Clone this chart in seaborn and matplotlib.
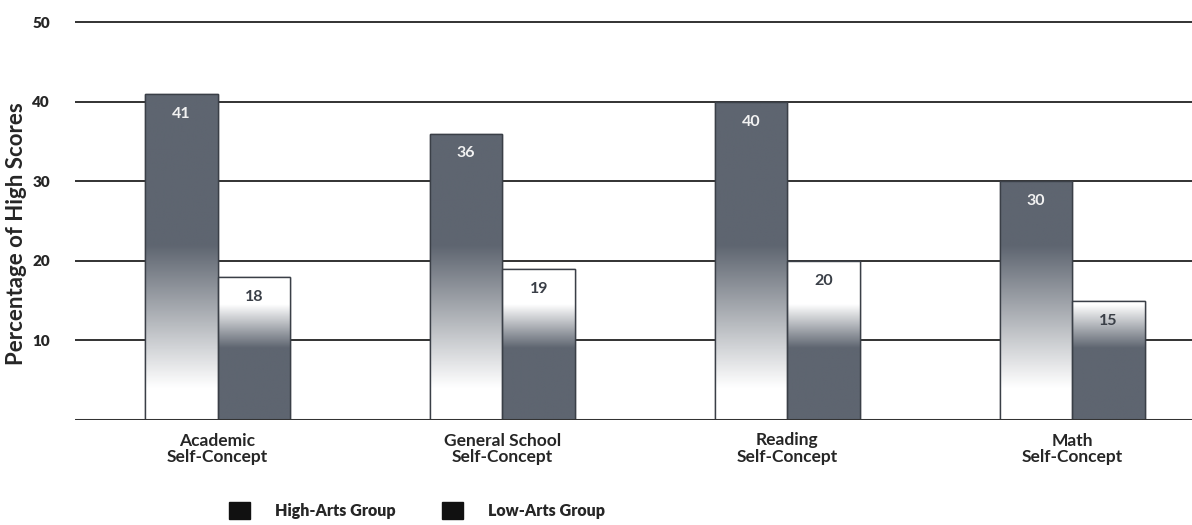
import numpy as np
import pandas as pd
import matplotlib
matplotlib.use("Agg")
import matplotlib.pyplot as plt
from matplotlib.colors import LinearSegmentedColormap
from matplotlib.patches import Patch
import seaborn as sns

categories = ["Academic\nSelf-Concept", "General School\nSelf-Concept",
              "Reading\nSelf-Concept", "Math\nSelf-Concept"]
groups = ["High-Arts Group", "Low-Arts Group"]
high_arts = [41, 36, 40, 30]
low_arts = [18, 19, 20, 15]
yticks = [10, 20, 30, 40, 50]

sns.set_theme(style="white")
plt.rcParams['font.family'] = ['Lato', 'DejaVu Sans']

df = pd.DataFrame({
    "category": categories * 2,
    "group": [groups[0]] * 4 + [groups[1]] * 4,
    "value": high_arts + low_arts,
})

DARK = "#5e6570"
fig = plt.figure(figsize=(11.92, 5.25), dpi=100)
ax = fig.add_axes([0.063, 0.20, 0.937, 0.773])

sns.barplot(data=df, x="category", y="value", hue="group", hue_order=groups,
            order=categories, width=0.51, palette=[DARK, DARK], ax=ax,
            legend=False, zorder=3, edgecolor="#3a3f47", linewidth=1.0)

ax.set_ylim(0, 51)
ax.set_xlim(-0.5, 3.42)
ax.set_yticks(yticks)
ax.set_yticklabels([str(t) for t in yticks], fontsize=11, fontweight="heavy")
ax.tick_params(axis="y", length=0, pad=18)
ax.tick_params(axis="x", length=0, pad=9)
ax.set_xticks(range(len(categories)))
ax.set_xticklabels(categories, fontsize=12.5, fontweight="bold", linespacing=1.05)
ax.set_xlabel("")
ax.set_ylabel("")
fig.text(0.014, 0.555, "Percentage of High Scores", rotation=90, ha="center",
         va="center", fontsize=16, fontweight="bold")
for s in ax.spines.values():
    s.set_visible(False)
for t in yticks:
    ax.axhline(t, color="#222222", lw=1.3, zorder=1)
ax.axhline(0, color="#333333", lw=2.2, zorder=4)

cmap = LinearSegmentedColormap.from_list("g", ["#ffffff", DARK])
ys = np.linspace(0, 51, 400)
high_int = np.clip((ys - 4) / (22 - 4), 0, 1)
low_int = np.clip((14.5 - ys) / (14.5 - 9), 0, 1)

patches = ax.patches
n = len(categories)
for i, p in enumerate(patches[:2 * n]):
    x0, w, h = p.get_x(), p.get_width(), p.get_height()
    prof = high_int if i < n else low_int
    sel = ys <= h + 0.5
    img = ax.imshow(prof[sel][::-1, None], extent=[x0, x0 + w, 0, ys[sel][-1]],
                    cmap=cmap, vmin=0, vmax=1, aspect="auto", zorder=3.5,
                    interpolation="bilinear")
    img.set_clip_path(p)
    ax.add_patch(plt.Rectangle((x0, 0), w, h, fill=False, edgecolor="#3a3f47",
                               lw=1.0, zorder=3.6))
    color = "#f2f2f2" if i < n else "#3a3f47"
    ax.text(x0 + w / 2, h - 2.5, f"{int(round(h))}", ha="center", va="center",
            fontsize=11.5, fontweight="bold", color=color, zorder=5)
ax.set_aspect("auto")
ax.set_xlim(-0.5, 3.42)
ax.set_ylim(0, 51)

handles = [Patch(facecolor="#111111", edgecolor="#111111"),
           Patch(facecolor="#111111", edgecolor="#111111")]
fig.legend(handles, groups, loc="center", bbox_to_anchor=(0.35, 0.028), ncol=2,
           frameon=False, prop={"weight": "heavy", "size": 11.5}, handlelength=1.3,
           handleheight=1.3, columnspacing=2.9, handletextpad=1.6)

fig.savefig("out.png", dpi=100)
